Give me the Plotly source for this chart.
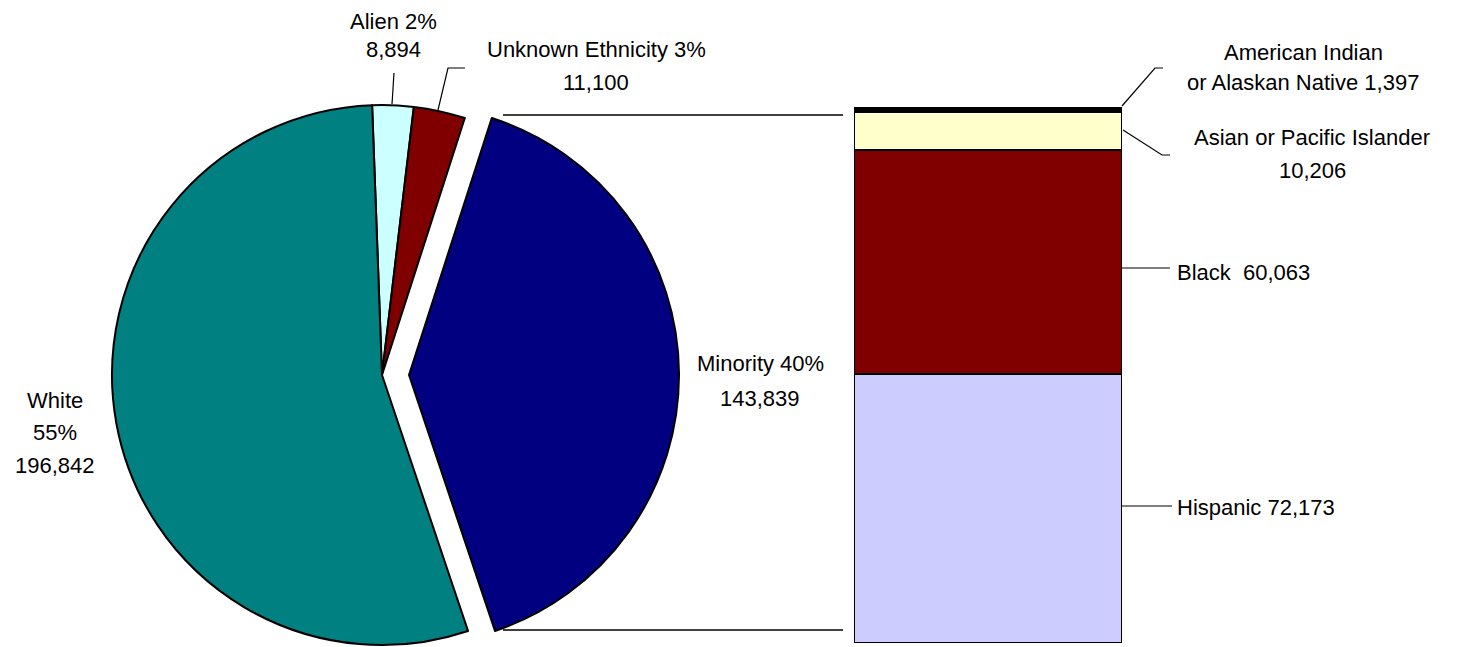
import plotly.graph_objects as go

W, H = 1459, 647
OFF = 8  # page body margin offset compensation

# ---- data ----
pie_labels = ["Alien", "Unknown Ethnicity", "Minority", "White"]
pie_values = [8894, 11100, 143839, 196842]
pie_colors = ["#CCFFFF", "#800000", "#000080", "#008080"]

bar_labels = ["Hispanic", "Black", "Asian or Pacific Islander", "American Indian or Alaskan Native"]
bar_values = [72173, 60063, 10206, 1397]
bar_colors = ["#CCCCFF", "#800000", "#FFFFCC", "#000000"]

FONT = "Liberation Sans, Arial, sans-serif"


def px(x):
    return (x - OFF) / W


def py(y):
    return 1 - (y - OFF) / H


fig = go.Figure()

# main pie (minority slice hidden; drawn exploded by second trace)
hidden = "rgba(0,0,0,0)"
colsA = [c if l != "Minority" else hidden for l, c in zip(pie_labels, pie_colors)]
lwA = [0 if l == "Minority" else 2 for l in pie_labels]
colsB = [c if l == "Minority" else hidden for l, c in zip(pie_labels, pie_colors)]
lwB = [2 if l == "Minority" else 0 for l in pie_labels]

pie_x0, pie_x1, pie_top, pie_bot = 112, 652, 105, 645
shift = 27
fig.add_trace(go.Pie(labels=pie_labels, values=pie_values, sort=False,
                     direction="clockwise", rotation=-2.1,
                     marker=dict(colors=colsA, line=dict(color="black", width=lwA)),
                     textinfo="none", hoverinfo="label+value+percent",
                     domain=dict(x=[px(pie_x0), px(pie_x1)], y=[py(pie_bot), py(pie_top)])))
fig.add_trace(go.Pie(labels=pie_labels, values=pie_values, sort=False,
                     direction="clockwise", rotation=-2.1,
                     marker=dict(colors=colsB, line=dict(color="black", width=lwB)),
                     textinfo="none", hoverinfo="label+value+percent",
                     domain=dict(x=[px(pie_x0 + shift), px(pie_x1 + shift)], y=[py(pie_bot), py(pie_top)])))

# stacked bar
for lab, val, col in zip(bar_labels, bar_values, bar_colors):
    fig.add_trace(go.Bar(x=[0], y=[val], width=[1], name=lab,
                         marker=dict(color=col, line=dict(color="black", width=2)),
                         hoverinfo="name+y"))

total_minority = sum(bar_values)

fig.update_layout(
    width=W, height=H,
    margin=dict(l=0, r=0, t=0, b=0),
    paper_bgcolor="white", plot_bgcolor="white",
    showlegend=False, barmode="stack", bargap=0,
    xaxis=dict(domain=[px(854), px(1122)], range=[-0.5, 0.5], visible=False, fixedrange=True),
    yaxis=dict(domain=[py(643), py(107)], range=[0, total_minority], visible=False, fixedrange=True),
    font=dict(family=FONT, size=22, color="black"),
)

# text labels
def label(text, x, y, anchor="center"):
    fig.add_annotation(text=text, x=px(x), y=py(y), xref="paper", yref="paper",
                       xanchor=anchor, yanchor="middle", showarrow=False,
                       font=dict(family=FONT, size=22, color="black"))

label("Alien 2%", 393, 22)
label("8,894", 393, 50)
label("Unknown Ethnicity 3%", 596, 50)
label("11,100", 596, 82)
label("Minority 40%", 760, 363)
label("143,839", 760, 398)
label("White", 55, 400)
label("55%", 55, 433)
label("196,842", 55, 465)
label("American Indian", 1303, 52)
label("or Alaskan Native 1,397", 1303, 83)
label("Asian or Pacific Islander", 1312, 138)
label("10,206", 1312, 170)
label("Black  60,063", 1175, 272, "left")
label("Hispanic 72,173", 1175, 507, "left")

# leader / connector lines
def path(points, width=1.2):
    d = "M " + " L ".join(f"{px(x)},{py(y)}" for x, y in points)
    fig.add_shape(type="path", path=d, xref="paper", yref="paper",
                  line=dict(color="black", width=width))

path([(394, 73), (392, 104)])
path([(438, 110), (448, 68), (465, 68)])
path([(503, 115), (843, 115)], 1.5)
path([(503, 630), (843, 630)], 1.5)
path([(1122, 106), (1155, 68), (1163, 68)])
path([(1123, 130), (1162, 155), (1170, 155)])
path([(1122, 268), (1170, 268)])
path([(1122, 506), (1172, 506)])

fig.write_html("out.html")
